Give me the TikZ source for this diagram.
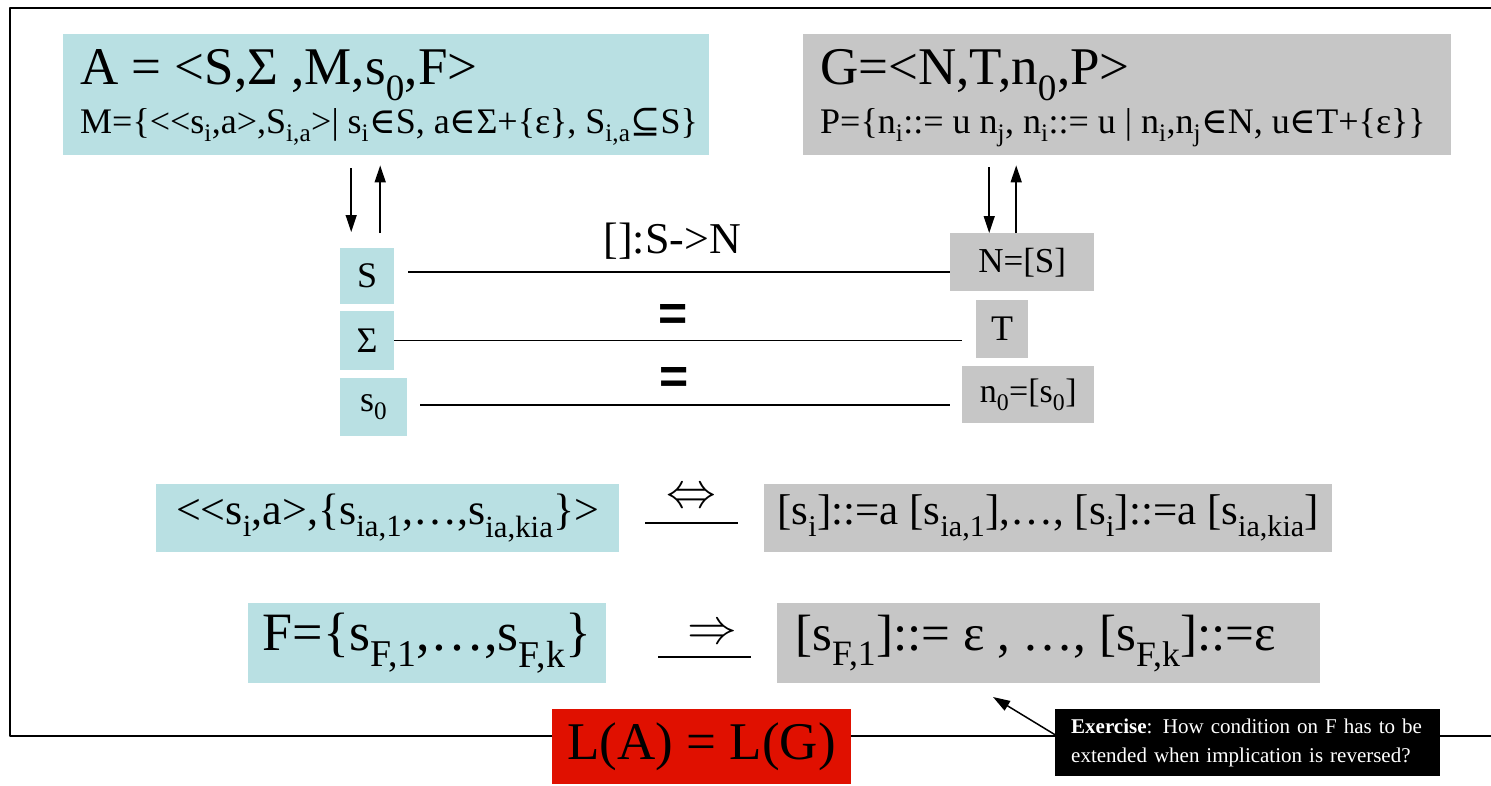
\documentclass[tikz,border=0pt]{standalone}
\usepackage{fontspec}
\setmainfont{Liberation Serif}
\setsansfont{Liberation Sans}
\newfontfamily\symf{DejaVu Serif}
\usetikzlibrary{arrows.meta}

\definecolor{autocol}{RGB}{185,224,227}
\definecolor{gramcol}{RGB}{198,198,198}
\definecolor{langred}{RGB}{224,16,0}

\newcommand{\ix}[1]{\textsubscript{#1}}
\newcommand{\fs}[1]{\fontsize{#1}{#1}\selectfont}
\newcommand{\elem}{{\symf ∈}}
\newcommand{\subs}{{\symf ⊆}}
\newcommand{\llt}{<\kern0pt<}

\tikzset{
	abox/.style={fill=autocol, inner sep=0pt, anchor=north west},
	gbox/.style={fill=gramcol, inner sep=0pt, anchor=north west},
	link/.style={line width=1.5pt},
	eqsign/.style={font=\sffamily\bfseries\fs{50}},
	relsign/.style={font=\fs{24.88}, inner sep=0pt},
}

\begin{document}
\begin{tikzpicture}[x=1pt, y=-1pt, line join=round, >={Triangle[length=17pt,width=11pt]}]
	\useasboundingbox (0,0) rectangle (1491,785);
	\draw[line width=2pt] (1491,8) -- (10,8) -- (10,736) -- (1491,736);
	% automaton and grammar
	\node[abox, minimum width=646, minimum height=121] (auto) at (63,34) {};
	\node[anchor=west, inner sep=0pt, align=left, font=\fontsize{36}{45}\selectfont] (autotext) at ([xshift=17pt, yshift=-3pt]auto.west)
		{{\fs{53}A = <S,Σ ,M,s\ix{0},F>}\\[4pt]
		 M=\{\llt s\ix{i},a>,S\ix{i,a}>| s\ix{i}\elem S, a\elem Σ+\{ε\}, S\ix{i,a}\subs S\}};
	\node[gbox, minimum width=648, minimum height=121] (gram) at (803,34) {};
	\node[anchor=west, inner sep=0pt, align=left, font=\fontsize{36}{45}\selectfont] (gramtext) at ([xshift=17pt, yshift=-3pt]gram.west)
		{{\fs{53}G=<N,T,n\ix{0},P>}\\[4pt]
		 P=\{n\ix{i}::= u n\ix{j}, n\ix{i}::= u | n\ix{i},n\ix{j}\elem N, u\elem T+\{ε\}\}};
	% components
	\node[abox, minimum width=54, minimum height=56, font=\fs{36}] (sbox) at (340,248) {S};
	\node[abox, minimum width=54, minimum height=59, font=\fs{36}] (sigbox) at (340,311) {Σ};
	\node[abox, minimum width=67, minimum height=58, font=\fs{36}] (s0box) at (340,378) {s\ix{0}};
	\node[gbox, minimum width=144, minimum height=58, font=\fs{35}] (nbox) at (950,233) {N=[S]};
	\node[gbox, minimum width=52, minimum height=58, font=\fs{36}] (tbox) at (976,300) {T};
	\node[gbox, minimum width=132, minimum height=57, font=\fs{34}] (n0box) at (962,366) {n\ix{0}=[s\ix{0}]};
	% arrows
	\coordinate (adown) at ([xshift=-16pt]sbox.north);
	\coordinate (aup) at ([xshift=13pt]sbox.north);
	\coordinate (gdown) at ([xshift=-33pt]nbox.north);
	\coordinate (gup) at ([xshift=-6pt]nbox.north);
	\draw[link, ->, shorten <=13pt, shorten >=16pt] (adown |- auto.south) -- (adown);
	\draw[link, ->, shorten <=15pt, shorten >=10pt] (aup) -- (aup |- auto.south);
	\draw[link, ->, shorten <=12pt] (gdown |- gram.south) -- (gdown);
	\draw[link, ->, shorten >=10pt] (gup) -- (gup |- gram.south);
	\draw[link, shorten <=14pt] ([yshift=4pt]sbox.east) -- node[above=9pt, font=\fs{44}] {[]:S->N} ([yshift=4pt]sbox.east -| nbox.west);
	\draw[link, shorten >=14pt] (sigbox.east) -- node[above=6pt, pos=0.48, eqsign] {=} (sigbox.east -| tbox.west);
	\draw[link, shorten <=13pt, shorten >=12pt] ([yshift=2pt]s0box.east) -- node[above=8pt, pos=0.48, eqsign] {=} ([yshift=2pt]s0box.east -| n0box.west);
	% transitions and productions
	\node[abox, minimum width=463, minimum height=68, font=\fs{44}] (pair) at (156,484)
		{\llt s\ix{i},a>,\{s\ix{ia,1},…,s\ix{ia,kia}\}>};
	\node[gbox, minimum width=568, minimum height=68, font=\fs{43}] (rule) at (764,484)
		{[s\ix{i}]::=a [s\ix{ia,1}],…, [s\ix{i}]::=a [s\ix{ia,kia}]};
	\draw[link, shorten <=26pt, shorten >=26pt] ([yshift=-5pt]pair.east) -- node[above=15pt, relsign] {\scalebox{2}{$\Leftrightarrow$}} ([yshift=-5pt]pair.east -| rule.west);
	% final states
	\node[abox, minimum width=358, minimum height=80, font=\fs{54}] (fin) at (248,603)
		{F=\{s\ix{F,1},…,s\ix{F,k}\}};
	\node[gbox, minimum width=543, minimum height=80] (eps) at (777,603) {};
	\node[anchor=west, inner sep=0pt, font=\fs{51}] (epstext) at ([xshift=18pt]eps.west)
		{[s\ix{F,1}]::= ε , …, [s\ix{F,k}]::=ε};
	\draw[link, shorten <=52pt, shorten >=26pt] ([yshift=-14pt]fin.east) -- node[above=13pt, pos=0.62, relsign] {\scalebox{2}{$\Rightarrow$}} ([yshift=-14pt]fin.east -| eps.west);
	% result
	\node[anchor=north west, fill=langred, inner sep=0pt, minimum width=299, minimum height=75, font=\fs{53}] (lang) at (552,709) {L(A) = L(G)};
	\node[anchor=north west, fill=black, text=white, inner xsep=16pt, inner ysep=0pt, minimum width=385, minimum height=67, text width=353, align=left, font=\fontsize{21}{29}\selectfont] (exer) at (1055,709)
		{\textbf{Exercise}: How condition on F has to be\\extended when implication is reversed?};
	\coordinate (hint) at (993,697);
	\draw[link, ->] ([yshift=8pt]exer.west) -- (hint);
\end{tikzpicture}
\end{document}
